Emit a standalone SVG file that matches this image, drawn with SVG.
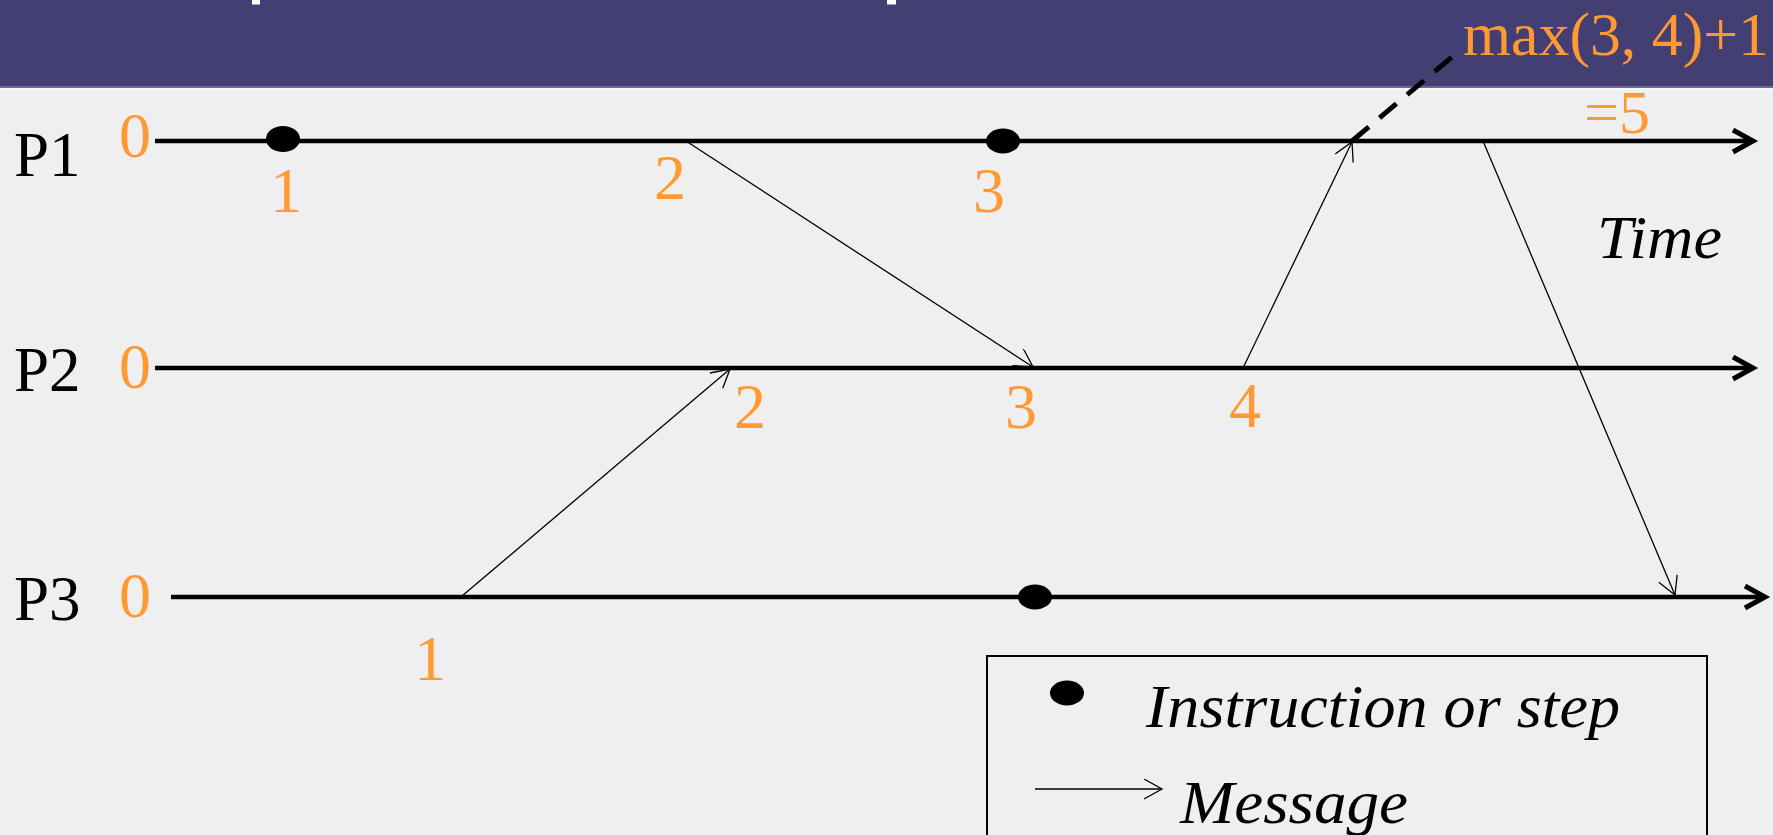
<svg xmlns="http://www.w3.org/2000/svg" width="1773" height="835" viewBox="0 0 1773 835">
  <style>
    .tl { stroke: #000; stroke-width: 4.5; fill: none; }
    .msg { stroke: #000; stroke-width: 1.3; fill: none; }
    .lbl { font-family: "Liberation Serif", "Times New Roman", serif; font-size: 63px; fill: #000; }
    .num { font-family: "Liberation Serif", "Times New Roman", serif; font-size: 64px; fill: #FF9933; text-anchor: middle; }
    .orn { font-family: "Liberation Serif", "Times New Roman", serif; fill: #FF9933; }
    .it { font-family: "Liberation Serif", "Times New Roman", serif; font-style: italic; fill: #000; }
    .dot { fill: #000; }
  </style>
  <defs>
    <marker id="open" markerUnits="userSpaceOnUse" markerWidth="22" markerHeight="22" viewBox="0 0 22 22" refX="19" refY="10" orient="auto">
      <path d="M1,0 L19,10 L1,20" fill="none" stroke="#000" stroke-width="1.3"/>
    </marker>
    <marker id="thick" markerUnits="userSpaceOnUse" markerWidth="30" markerHeight="30" viewBox="0 0 30 30" refX="23" refY="13" orient="auto">
      <path d="M3,2 L23,13 L3,24" fill="none" stroke="#000" stroke-width="5"/>
    </marker>
  </defs>

  <rect x="0" y="0" width="1773" height="835" fill="#EFEFEF"/>
  <g id="header">
    <rect x="0" y="0" width="1773" height="86" fill="#433F73"/>
    <rect x="0" y="86" width="1773" height="2" fill="#6E6A94"/>
    <rect x="0" y="88" width="1773" height="2" fill="#F7F7F7"/>
    <rect x="252" y="0" width="8" height="4.5" fill="#FFFFFF"/>
    <rect x="887" y="0" width="9" height="4.5" fill="#FFFFFF"/>
  </g>

  <g id="connectors">
    <line class="msg" x1="686" y1="141" x2="1033" y2="367" marker-end="url(#open)"/>
    <line class="msg" x1="462" y1="596" x2="730" y2="369" marker-end="url(#open)"/>
    <line class="msg" x1="1243" y1="368" x2="1352" y2="142" marker-end="url(#open)"/>
    <line class="msg" x1="1483" y1="141" x2="1675" y2="595" marker-end="url(#open)"/>
    <line x1="1352" y1="141" x2="1452" y2="57" stroke="#000" stroke-width="5" stroke-dasharray="22 14"/>
  </g>

  <g id="P1">
    <text class="lbl" x="14" y="176">P1</text>
    <text class="num" x="135" y="157">0</text>
    <line class="tl" x1="155" y1="141" x2="1753" y2="141" marker-end="url(#thick)"/>
    <ellipse class="dot" cx="283" cy="139" rx="17" ry="13"/>
    <ellipse class="dot" cx="1003" cy="141" rx="17" ry="12.5"/>
    <text class="num" x="286" y="212">1</text>
    <text class="num" x="670" y="199">2</text>
    <text class="num" x="989" y="212">3</text>
  </g>

  <g id="P2">
    <text class="lbl" x="14" y="391">P2</text>
    <text class="num" x="135" y="388">0</text>
    <line class="tl" x1="155" y1="368" x2="1753" y2="368" marker-end="url(#thick)"/>
    <text class="num" x="750" y="428">2</text>
    <text class="num" x="1021" y="428">3</text>
    <text class="num" x="1245" y="427">4</text>
  </g>

  <g id="P3">
    <text class="lbl" x="14" y="620">P3</text>
    <text class="num" x="135" y="617">0</text>
    <line class="tl" x1="171" y1="597" x2="1765" y2="597" marker-end="url(#thick)"/>
    <ellipse class="dot" cx="1035" cy="597" rx="17" ry="12.5"/>
    <text class="num" x="430" y="680">1</text>
  </g>

  <g id="annotation">
    <text class="orn" x="1463" y="55" font-size="61" textLength="306" lengthAdjust="spacingAndGlyphs">max(3, 4)+1</text>
    <text class="orn" x="1584" y="133" font-size="62">=5</text>
    <text class="it" x="1597" y="258" font-size="62" textLength="125" lengthAdjust="spacingAndGlyphs">Time</text>
  </g>

  <g id="legend">
    <rect x="987" y="656" width="720" height="190" fill="none" stroke="#000" stroke-width="2"/>
    <ellipse class="dot" cx="1067" cy="693" rx="17" ry="12.5"/>
    <text class="it" x="1146" y="727" font-size="61" textLength="474" lengthAdjust="spacingAndGlyphs">Instruction or step</text>
    <line class="msg" x1="1035" y1="789" x2="1162" y2="789" marker-end="url(#open)"/>
    <text class="it" x="1180" y="823" font-size="62" textLength="228" lengthAdjust="spacingAndGlyphs">Message</text>
  </g>
</svg>
